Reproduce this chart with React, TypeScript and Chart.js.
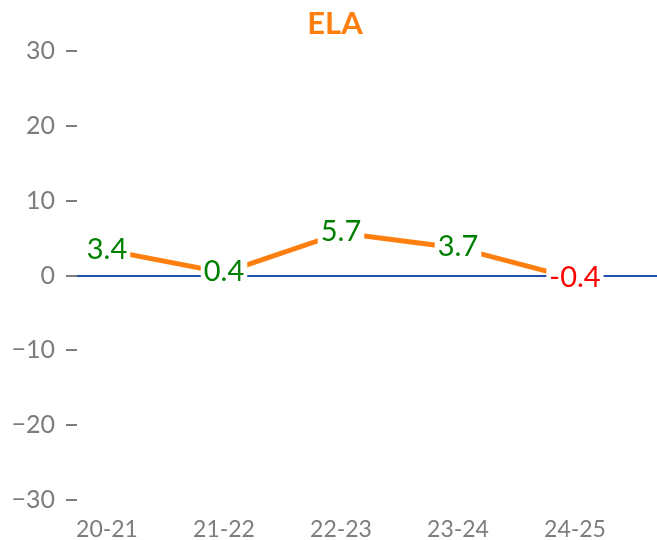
import React, { useEffect, useRef } from "react";
import { Chart, registerables } from "chart.js";

Chart.register(...registerables);

const categories = ["20-21", "21-22", "22-23", "23-24", "24-25"];
const values = [3.4, 0.4, 5.7, 3.7, -0.4];
const yTicks = [-30, -20, -10, 0, 10, 20, 30];
const title = "ELA";

const FONT = "Lato";
const GRAY = "#7d7d7d";
const ORANGE = "#ff7f0e";
const BLUE = "#1f50b0";

const valueLabels = {
  id: "valueLabels",
  afterDraw(chart: any) {
    const ctx = chart.ctx;
    const meta = chart.getDatasetMeta(0);
    ctx.save();
    ctx.font = `29px ${FONT}`;
    ctx.textAlign = "center";
    ctx.textBaseline = "middle";
    meta.data.forEach((pt: any, i: number) => {
      const v = values[i];
      const txt = String(v);
      const w = ctx.measureText(txt).width;
      const cx = pt.x;
      const cy = pt.y - 2;
      ctx.fillStyle = "#ffffff";
      ctx.fillRect(cx - w / 2 - 3, cy - 15, w + 6, 30);
      ctx.fillStyle = v < 0 ? "#ff0000" : "#008000";
      ctx.fillText(txt, cx, cy + 1);
    });
    ctx.restore();
  },
};

export default function App() {
  const ref = useRef<HTMLCanvasElement>(null);
  useEffect(() => {
    document.body.style.margin = "0";
    const chart = new Chart(ref.current!, {
      type: "line",
      data: {
        datasets: [
          {
            data: values.map((v, i) => ({ x: i, y: v })),
            borderColor: ORANGE,
            borderWidth: 5,
            pointRadius: 0,
            fill: false,
            tension: 0,
          },
        ],
      },
      options: {
        animation: false,
        responsive: false,
        layout: { padding: { left: 13, right: 0, top: 0, bottom: 0 } },
        plugins: {
          legend: { display: false },
          tooltip: { enabled: false },
          title: {
            display: true,
            text: title,
            color: ORANGE,
            font: { family: FONT, size: 31, weight: "bold" },
            padding: { top: 5, bottom: 9 },
          },
        },
        scales: {
          x: {
            type: "linear",
            min: -0.2564,
            max: 4.7009,
            afterBuildTicks: (axis: any) => {
              axis.ticks = categories.map((_, i) => ({ value: i }));
            },
            afterFit: (axis: any) => {
              axis.height = 40;
            },
            grid: { display: false },
            border: { display: false },
            ticks: {
              autoSkip: false,
              maxRotation: 0,
              padding: 8,
              color: GRAY,
              font: { family: FONT, size: 23 },
              callback: (v: any) => categories[v] ?? "",
            },
          },
          y: {
            min: yTicks[0],
            max: yTicks[yTicks.length - 1],
            afterBuildTicks: (axis: any) => {
              axis.ticks = yTicks.map((v) => ({ value: v }));
            },
            afterFit: (axis: any) => {
              axis.width = 64;
            },
            border: { display: false },
            grid: {
              color: (c: any) => (c.tick && c.tick.value === 0 ? BLUE : "rgba(0,0,0,0)"),
              lineWidth: 2,
              tickColor: GRAY,
              tickLength: 11,
              tickWidth: 2,
            },
            ticks: {
              padding: 11,
              color: GRAY,
              font: { family: FONT, size: 25 },
              callback: (v: any) => (v < 0 ? "\u2212" + Math.abs(v) : String(v)),
            },
          },
        },
      },
      plugins: [valueLabels],
    });
    return () => chart.destroy();
  }, []);
  return (
    <div style={{ width: 657, height: 540 }}>
      <canvas ref={ref} width={657} height={540} />
    </div>
  );
}
